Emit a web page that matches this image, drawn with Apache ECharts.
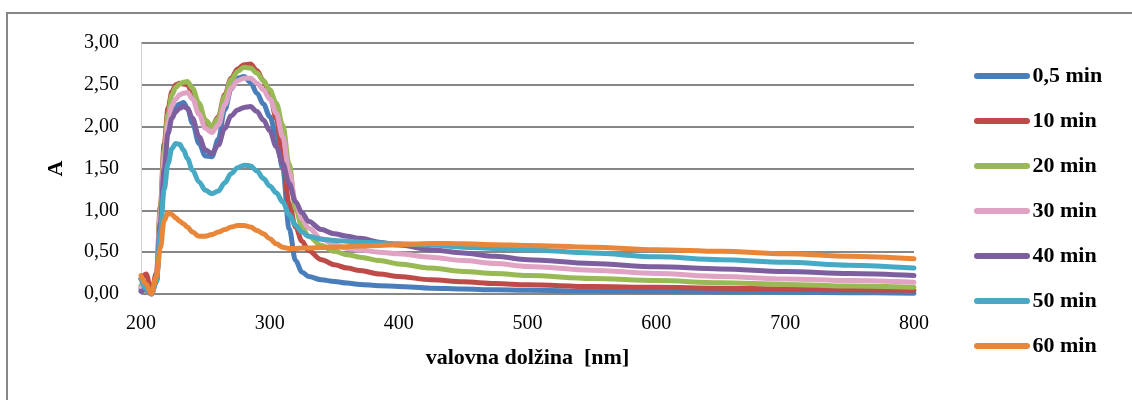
<!DOCTYPE html>
<html>
<head>
<meta charset="utf-8">
<title>Absorpcijski spektri</title>
<script src="https://cdn.jsdelivr.net/npm/echarts@6/dist/echarts.min.js"></script>
<style>
  html, body { margin: 0; padding: 0; background: #fff; }
  #chart { width: 1132px; height: 400px; }
</style>
</head>
<body>
<div id="chart"></div>
<script>
// Wavelength grid [nm]
const wavelengths = [200,204,208,212,215,218,221,224,227,230,233,236,240,245,250,255,260,265,270,275,280,285,290,295,300,305,310,315,320,325,330,340,350,360,370,385,400,425,450,475,500,550,600,650,700,750,800];

// Absorbance per measurement time
const min05 = [0.06,0.10,0.00,0.15,0.85,1.55,1.98,2.16,2.24,2.27,2.29,2.22,2.04,1.80,1.65,1.64,1.85,2.20,2.45,2.58,2.60,2.53,2.40,2.27,2.12,1.90,1.50,0.78,0.40,0.26,0.21,0.17,0.15,0.13,0.115,0.10,0.09,0.07,0.06,0.05,0.045,0.035,0.03,0.025,0.02,0.015,0.01];
const min10 = [0.18,0.24,0.02,0.25,1.05,1.80,2.22,2.42,2.50,2.52,2.51,2.50,2.40,2.22,2.05,2.00,2.12,2.38,2.58,2.69,2.74,2.75,2.67,2.55,2.38,2.10,1.62,1.08,0.80,0.63,0.52,0.41,0.35,0.31,0.28,0.24,0.21,0.17,0.145,0.125,0.11,0.09,0.08,0.07,0.06,0.05,0.045];
const min20 = [0.10,0.08,0.00,0.20,1.00,1.72,2.15,2.38,2.47,2.51,2.53,2.54,2.46,2.28,2.08,2.00,2.10,2.36,2.56,2.66,2.71,2.70,2.64,2.55,2.44,2.28,2.02,1.55,1.02,0.80,0.69,0.58,0.51,0.47,0.44,0.40,0.36,0.31,0.27,0.245,0.22,0.185,0.16,0.135,0.115,0.095,0.08];
const min30 = [0.08,0.06,0.00,0.18,0.95,1.62,2.05,2.25,2.33,2.38,2.40,2.41,2.33,2.15,1.98,1.93,2.02,2.26,2.46,2.55,2.58,2.58,2.52,2.44,2.33,2.16,1.88,1.46,1.10,0.90,0.79,0.66,0.59,0.545,0.525,0.50,0.48,0.44,0.40,0.365,0.33,0.285,0.245,0.21,0.18,0.16,0.14];
const min40 = [0.03,0.05,0.00,0.15,0.85,1.50,1.92,2.10,2.18,2.22,2.24,2.22,2.10,1.88,1.72,1.68,1.78,1.98,2.13,2.20,2.23,2.24,2.18,2.08,1.95,1.76,1.56,1.32,1.10,0.97,0.87,0.77,0.72,0.69,0.665,0.62,0.585,0.53,0.49,0.45,0.41,0.365,0.325,0.30,0.27,0.245,0.22];
const min50 = [0.18,0.06,0.00,0.15,0.75,1.25,1.56,1.74,1.80,1.79,1.72,1.62,1.48,1.34,1.24,1.20,1.23,1.33,1.44,1.51,1.54,1.53,1.47,1.38,1.29,1.21,1.10,0.95,0.82,0.74,0.69,0.655,0.64,0.63,0.62,0.61,0.60,0.585,0.56,0.545,0.53,0.49,0.445,0.41,0.38,0.345,0.31];
const min60 = [0.22,0.12,0.00,0.20,0.55,0.88,0.97,0.95,0.91,0.87,0.84,0.80,0.74,0.69,0.69,0.71,0.74,0.77,0.80,0.82,0.82,0.80,0.76,0.72,0.66,0.60,0.56,0.545,0.545,0.55,0.55,0.555,0.56,0.565,0.575,0.58,0.59,0.605,0.60,0.59,0.58,0.56,0.53,0.51,0.48,0.45,0.42];

const seriesNames = ['0,5 min','10 min','20 min','30 min','40 min','50 min','60 min'];
const seriesValues = [min05, min10, min20, min30, min40, min50, min60];
const seriesColors = ['#4A7EBB','#BE4B48','#98B954','#E0A3C3','#7D5FA0','#46AAC5','#E8873A'];

// Axis ticks
const xTicks = [200,300,400,500,600,700,800];
const yTickLabels = ['0,00','0,50','1,00','1,50','2,00','2,50','3,00'];

const serif = '"Liberation Serif", "Times New Roman", serif';
const capsule = 'path://M3,0 H53 A3,3 0 0 1 53,6 H3 A3,3 0 0 1 3,0 Z';

const chart = echarts.init(document.getElementById('chart'), null, { renderer: 'canvas' });

chart.setOption({
  animation: false,
  backgroundColor: '#fff',
  graphic: [{
    type: 'rect',
    silent: true,
    z: -10,
    shape: { x: 7, y: 13, width: 1300, height: 600 },
    style: { fill: 'none', stroke: '#878787', lineWidth: 2 }
  }],
  grid: { left: 141, right: 218, top: 43, bottom: 106, containLabel: false },
  legend: {
    orient: 'vertical',
    left: 969,
    top: 60,
    itemWidth: 57,
    itemHeight: 6,
    itemGap: 23,
    icon: capsule,
    textStyle: { fontFamily: serif, fontWeight: 'bold', fontSize: 22, lineHeight: 22, color: '#000', padding: [0, 0, 0, -3] },
    data: seriesNames
  },
  xAxis: {
    type: 'value',
    min: xTicks[0],
    max: xTicks[xTicks.length - 1],
    interval: 100,
    name: 'valovna dolžina  [nm]',
    nameLocation: 'middle',
    nameGap: 53,
    nameTextStyle: { fontFamily: serif, fontWeight: 'bold', fontSize: 22, color: '#000' },
    axisLine: { show: false },
    axisTick: { show: false },
    splitLine: { show: false },
    axisLabel: { fontFamily: serif, fontSize: 20, color: '#000', margin: 20 }
  },
  yAxis: {
    type: 'value',
    min: 0,
    max: 3,
    interval: 0.5,
    name: 'A',
    nameLocation: 'middle',
    nameGap: 74,
    nameTextStyle: { fontFamily: serif, fontWeight: 'bold', fontSize: 22, color: '#000' },
    axisLine: { show: true, lineStyle: { color: '#d0d0d0', width: 1 } },
    axisTick: { show: false },
    splitLine: { show: true, lineStyle: { color: '#878787', width: 2 } },
    axisLabel: {
      fontFamily: serif, fontSize: 20, color: '#000', margin: 22,
      formatter: (v) => yTickLabels[Math.round(v / 0.5)]
    }
  },
  series: seriesNames.map((name, i) => ({
    name,
    type: 'line',
    data: wavelengths.map((w, k) => [w, seriesValues[i][k]]),
    showSymbol: false,
    symbol: 'none',
    smooth: 0.35,
    smoothMonotone: 'x',
    clip: true,
    color: seriesColors[i],
    lineStyle: { width: 5, color: seriesColors[i], cap: 'round', join: 'round' }
  }))
});
</script>
</body>
</html>
